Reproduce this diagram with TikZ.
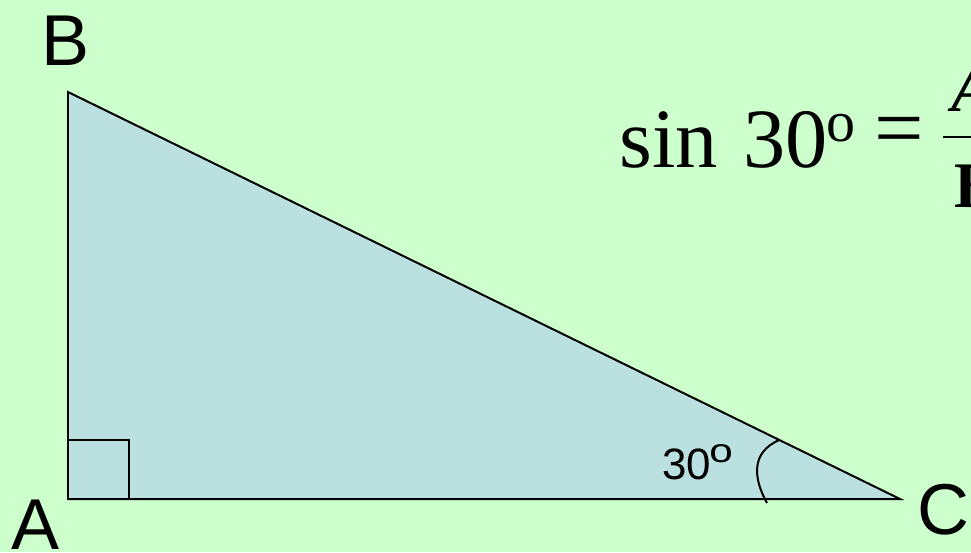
\documentclass[tikz,border=0pt]{standalone}
\usepackage{fontspec}
\setmainfont{Liberation Serif}
\newfontfamily\arialfont{Liberation Sans}
\usetikzlibrary{calc}
\definecolor{bgcol}{RGB}{204,255,204}
\definecolor{tricol}{RGB}{187,224,224}
\begin{document}
\begin{tikzpicture}[x=0.02cm,y=-0.02cm,
  edge/.style={line width=1.13pt, line join=miter, draw=black},
  vlabel/.style={inner sep=0pt, anchor=base west, font=\arialfont\fontsize{41}{41}\selectfont},
  anglabel/.style={inner sep=0pt, anchor=base west, font=\arialfont\fontsize{25}{25}\selectfont},
  angsup/.style={inner sep=0pt, anchor=base west, font=\arialfont\fontsize{20}{20}\selectfont},
  formula/.style={inner sep=0pt, anchor=base west, font=\fontsize{48}{48}\selectfont},
  fracpart/.style={inner sep=0pt, anchor=base west, font=\fontsize{37}{37}\selectfont\bfseries}]
\useasboundingbox (0,0) rectangle (971,552);
\clip (0,0) rectangle (971,552);
\fill[bgcol] (0,0) rectangle (971,552);
% vertices
\coordinate (A) at (68,499);
\coordinate (B) at (68,92);
\coordinate (C) at (900,499);
\fill[tricol] (A) -- (B) -- (C) -- cycle;
\draw[edge] (A) -- (B) -- (C) -- cycle;
% right angle mark
\coordinate (R1) at (68,440);
\coordinate (R2) at (129,440);
\coordinate (R3) at (129,499);
\draw[edge] (R1) -- (R2) -- (R3);
% angle arc at C
\coordinate (P) at ($(B)!0.855!(C)$);
\coordinate (Q) at (767,503);
\draw[edge] (P) .. controls (751,452) and (753,478) .. (Q);
% vertex labels
\node[vlabel] (lB) at (41,65) {B};
\node[vlabel] (lA) at (11,549) {A};
\node[vlabel] (lC) at (917,534) {C};
% angle label
\node[anglabel] (ang) at (662,479) {30};
\node[angsup] (ango) at (709,462) {\scalebox{1.2}[0.95]{o}};
% formula
\node[formula] (sin) at (619,167) {sin};
\node[formula] (thirty) at (743,167) {30};
\node[inner sep=0pt, anchor=base west, font=\fontsize{33}{33}\selectfont] (deg) at (826,141) {o};
\node[inner sep=0pt, anchor=center, font=\fontsize{50}{50}\selectfont] (eq) at (899.5,137) {=};
\coordinate (bar1) at (943,137);
\coordinate (bar2) at (980,137);
\draw[line width=1.7pt] (bar1) -- (bar2);
\node[fracpart, font=\fontsize{37}{37}\selectfont\bfseries\itshape] (num) at (951,111) {AB};
\node[fracpart] (den) at (954,207) {BC};
\end{tikzpicture}
\end{document}
